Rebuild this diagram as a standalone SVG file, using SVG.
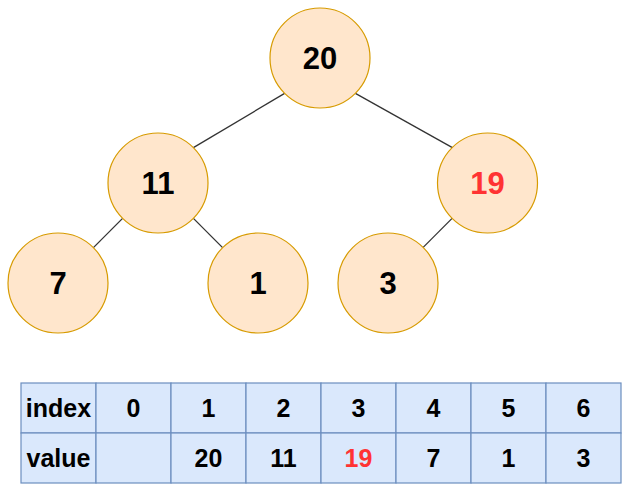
<svg xmlns="http://www.w3.org/2000/svg" width="642" height="503" viewBox="0 0 642 503">
<style>
.node circle{fill:#ffe6cc;stroke:#d79b00;stroke-width:1.2}
.node text{font-family:"Liberation Sans",Arial,sans-serif;font-weight:bold;font-size:31px;text-anchor:middle;fill:#000}
.red{fill:#ff3333 !important}
.edges line{stroke:#333;stroke-width:1.3}
.cell{fill:#dae8fc;stroke:#6c8ebf;stroke-width:1.2}
.tt{font-family:"Liberation Sans",Arial,sans-serif;font-weight:bold;font-size:25px;text-anchor:middle;fill:#000}
</style>
<rect width="642" height="503" fill="#fff"/>
<g class="edges" id="connectors">
<line x1="284.6" y1="93.4" x2="193.4" y2="147.6"/>
<line x1="355.4" y1="93.4" x2="452.4" y2="147.6"/>
<line x1="122.6" y1="218.4" x2="93.4" y2="247.6"/>
<line x1="193.4" y1="218.4" x2="222.6" y2="247.6"/>
<line x1="452.1" y1="218.4" x2="422.9" y2="247.6"/>
</g>
<g class="node" id="n20"><circle cx="320" cy="58" r="50"/><text x="320" y="69">20</text></g>
<g class="node" id="n11"><circle cx="158" cy="183" r="50"/><text x="158" y="194">11</text></g>
<g class="node" id="n19"><circle cx="487.5" cy="183" r="50"/><text class="red" x="487.5" y="194">19</text></g>
<g class="node" id="n7"><circle cx="58" cy="283" r="50"/><text x="58" y="294">7</text></g>
<g class="node" id="n1"><circle cx="258" cy="283" r="50"/><text x="258" y="294">1</text></g>
<g class="node" id="n3"><circle cx="388" cy="283" r="50"/><text x="388" y="294">3</text></g>
<g id="table">
<rect class="cell" x="21" y="383" width="75" height="50"/>
<rect class="cell" x="96" y="383" width="75" height="50"/>
<rect class="cell" x="171" y="383" width="75" height="50"/>
<rect class="cell" x="246" y="383" width="75" height="50"/>
<rect class="cell" x="321" y="383" width="75" height="50"/>
<rect class="cell" x="396" y="383" width="75" height="50"/>
<rect class="cell" x="471" y="383" width="75" height="50"/>
<rect class="cell" x="546" y="383" width="75" height="50"/>
<rect class="cell" x="21" y="433" width="75" height="50"/>
<rect class="cell" x="96" y="433" width="75" height="50"/>
<rect class="cell" x="171" y="433" width="75" height="50"/>
<rect class="cell" x="246" y="433" width="75" height="50"/>
<rect class="cell" x="321" y="433" width="75" height="50"/>
<rect class="cell" x="396" y="433" width="75" height="50"/>
<rect class="cell" x="471" y="433" width="75" height="50"/>
<rect class="cell" x="546" y="433" width="75" height="50"/>
<text class="tt" x="58.5" y="417">index</text>
<text class="tt" x="133.5" y="417">0</text>
<text class="tt" x="208.5" y="417">1</text>
<text class="tt" x="283.5" y="417">2</text>
<text class="tt" x="358.5" y="417">3</text>
<text class="tt" x="433.5" y="417">4</text>
<text class="tt" x="508.5" y="417">5</text>
<text class="tt" x="583.5" y="417">6</text>
<text class="tt" x="58.5" y="467">value</text>
<text class="tt" x="208.5" y="467">20</text>
<text class="tt" x="283.5" y="467">11</text>
<text class="tt" x="358.5" y="467" style="fill:#ff3333">19</text>
<text class="tt" x="433.5" y="467">7</text>
<text class="tt" x="508.5" y="467">1</text>
<text class="tt" x="583.5" y="467">3</text>
</g>
</svg>
